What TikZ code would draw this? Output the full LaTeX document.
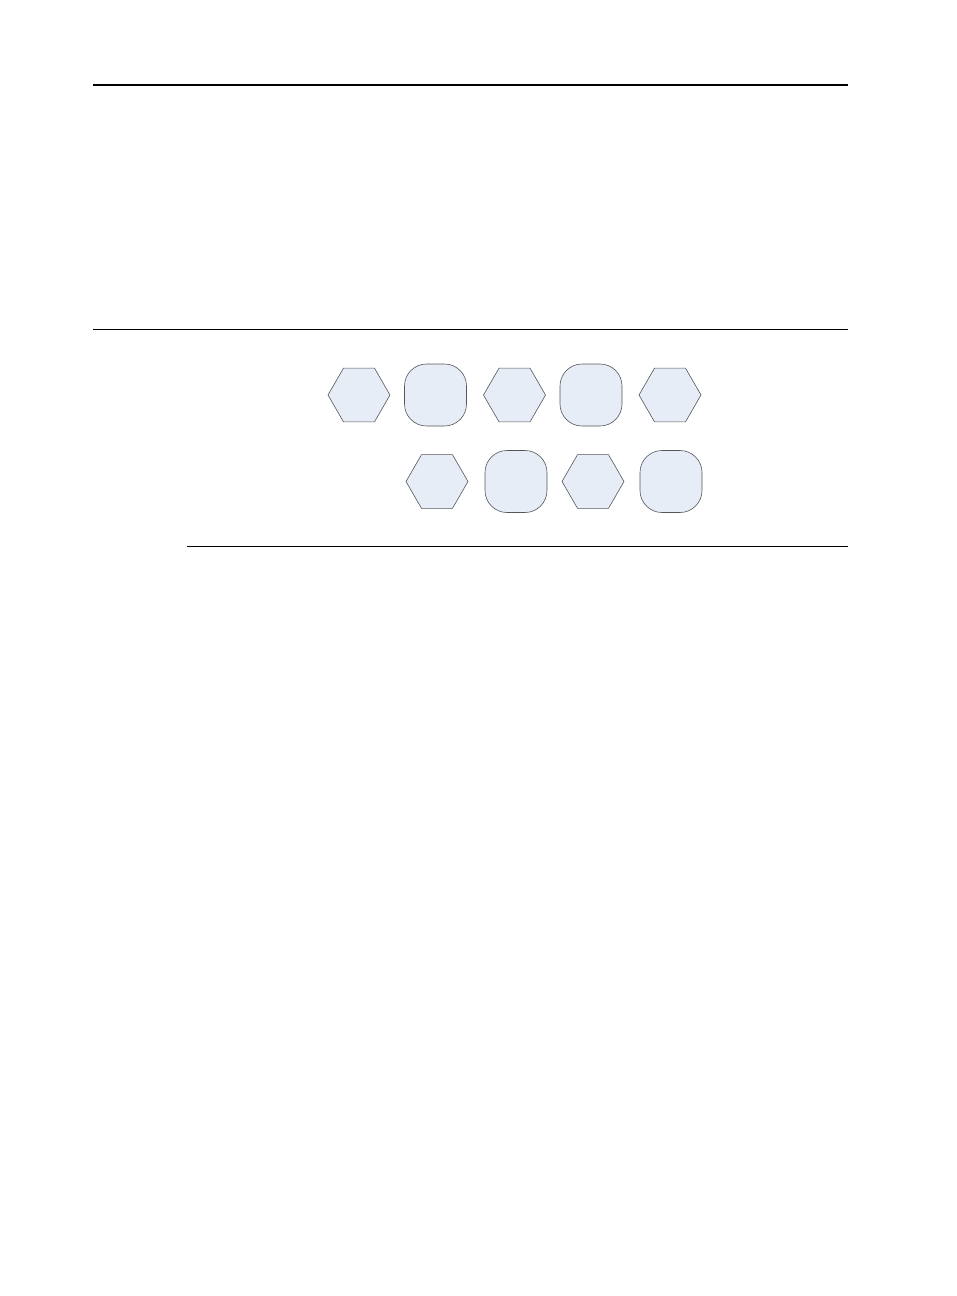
\documentclass[tikz,border=0pt]{standalone}
\usepackage{tikz}
\usetikzlibrary{shapes.geometric,positioning}
\definecolor{cellfill}{RGB}{231,237,247}
\definecolor{celldraw}{RGB}{85,85,90}
\tikzset{
  hexnode/.style={regular polygon, regular polygon sides=6, draw=celldraw, fill=cellfill,
                  line width=0.6pt, minimum size=62pt, inner sep=0pt, outer sep=0pt},
  rndnode/.style={rectangle, draw=celldraw, fill=cellfill, rounded corners=22pt,
                  line width=0.6pt, minimum width=62pt, minimum height=62pt,
                  inner sep=0pt, outer sep=0pt},
  rulethick/.style={line width=1.8pt, black},
  rulethin/.style={line width=0.9pt, black},
}
\begin{document}
\begin{tikzpicture}[x=1pt, y=-1pt, node distance=14.5pt]
    \useasboundingbox (0,0) rectangle (956,1296);
    % rules
    \draw[rulethick] (93,85) -- (848,85);
    \draw[rulethick] (93,329.5) -- (848,329.5);
    \draw[rulethin] (187,546) -- (848,546);
    % upper row
    \node[hexnode] (h1) at (359,395) {};
    \node[rndnode, right=of h1] (r1) {};
    \node[hexnode, right=17pt of r1] (h2) {};
    \node[rndnode, right=of h2] (r2) {};
    \node[hexnode, right=17pt of r2] (h3) {};
    % lower row
    \node[hexnode] (h4) at (437,481.5) {};
    \node[rndnode, right=17pt of h4] (r3) {};
    \node[hexnode, right=15pt of r3] (h5) {};
    \node[rndnode, right=16pt of h5] (r4) {};
\end{tikzpicture}
\end{document}
